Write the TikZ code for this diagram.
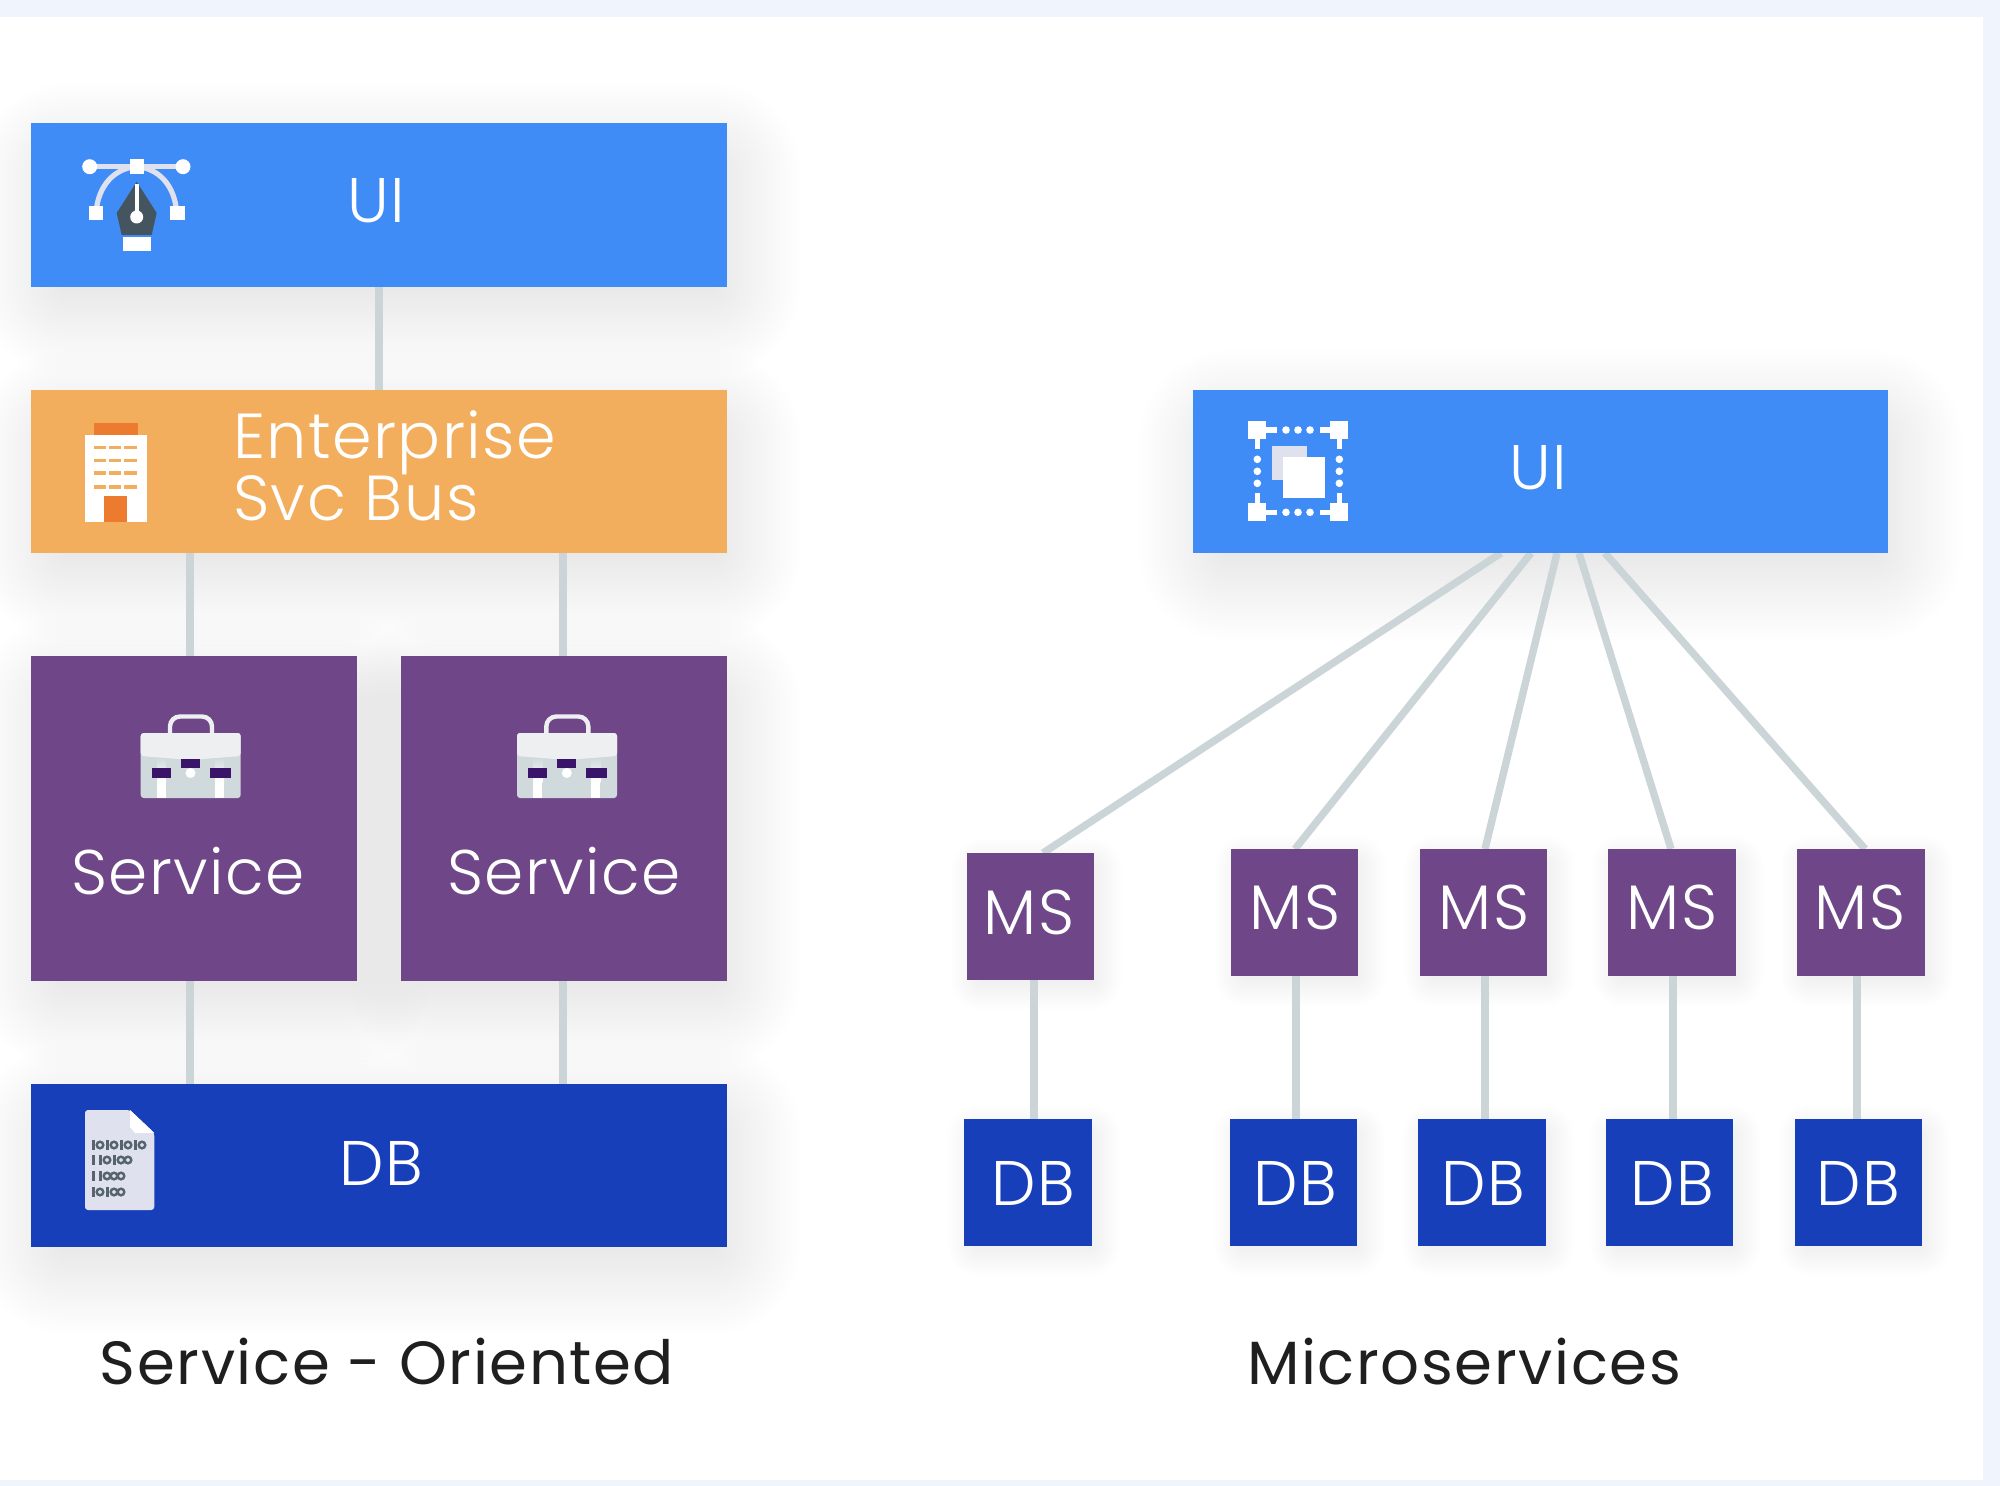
\documentclass[tikz,border=0pt]{standalone}
\usepackage{fontspec}
\setmainfont{Poppins}[UprightFont={* Light},BoldFont={*},LetterSpace=2.3]
\newfontfamily\labelfont{Poppins}[LetterSpace=2.6]
\usetikzlibrary{calc}
\pgfdeclarelayer{panel}\pgfdeclarelayer{shade}\pgfdeclarelayer{wires}
\pgfsetlayers{panel,shade,wires,main}
\definecolor{pageblue}{HTML}{EFF4FD}
\definecolor{uiblue}{HTML}{3F8CF7}
\definecolor{busorange}{HTML}{F3AE5D}
\definecolor{deeporange}{HTML}{EC7B30}
\definecolor{svcpurple}{HTML}{6F4788}
\definecolor{dbblue}{HTML}{183FBA}
\definecolor{wire}{HTML}{CBD5D8}
\definecolor{nib}{HTML}{455560}
\definecolor{paleicon}{HTML}{DFE1EE}
\definecolor{clasp}{HTML}{3A1468}
\definecolor{casetop}{HTML}{EDEFF1}
\definecolor{casebot}{HTML}{D0D9DC}
\definecolor{bitdark}{HTML}{56646E}
\newcommand{\bx}[5]{\node[box,fill=#1,minimum width={(#4-#2)*0.5pt},minimum height={(#5-#3)*0.5pt}] at ({(#2+#4)/2},{(#3+#5)/2})}
\newcommand{\softshade}[3]{% node, x offset, y offset
  \foreach \g in {64,60,...,-24}{
    \fill[black,opacity=0.0036,rounded corners={(\g+26)*0.5pt}]
      ($(#1.south west)+(#2-\g,#3+\g)$) rectangle ($(#1.north east)+(#2+\g,#3-\g)$);
  }}
\newcommand{\brief}[1]{%
  \begin{scope}[shift={(#1,0)}]
    \draw[casetop,line width=2.2pt,rounded corners=5pt] (170,735) -- (170,716.5) -- (212,716.5) -- (212,735);
    \fill[casebot,rounded corners=1.5pt] (140.7,733) rectangle (240.7,798);
    \fill[casetop,rounded corners=1.5pt] (140.7,733) -- (240.7,733) -- (240.7,756) -- (190.7,760) -- (140.7,756) -- cycle;
    \shade[top color=casebot,bottom color=white] (157,758) rectangle (166,782);
    \fill[white] (157,782) rectangle (166,798);
    \shade[top color=casebot,bottom color=white] (215,758) rectangle (224,782);
    \fill[white] (215,782) rectangle (224,798);
    \fill[white] (190.5,773) circle (5);
    \fill[clasp] (152,768) rectangle (171,778);
    \fill[clasp] (210,768) rectangle (231,778);
    \fill[clasp] (181,759) rectangle (200,768);
  \end{scope}}
\newcommand{\binrow}[2]{%
  \foreach \kind [count=\n from 0] in {#2}{
    \ifnum\kind=1
      \fill[bitdark] ({93+\n*7-1.5},#1-5) rectangle ({93+\n*7+1.5},#1+5);
    \else
      \draw[bitdark,line width=1.2pt] ({93+\n*7},#1) circle (3.3);
    \fi}}
\tikzset{
  x=0.5pt,y=-0.5pt,
  box/.style={draw=none,inner sep=0pt,outer sep=0pt,text=white,font=\fontsize{31.5}{33}\selectfont,align=left},
  wireline/.style={wire,line width=4pt},
  fanline/.style={wire,line width=3.7pt},
  caption/.style={inner sep=0pt,text=black!88,font=\labelfont\fontsize{30.5}{34}\selectfont}
}
\begin{document}
\begin{tikzpicture}
\useasboundingbox (0,0) rectangle (2000,1486);
\begin{pgfonlayer}{panel}
\fill[pageblue] (0,0) rectangle (2000,1486);
\fill[white] (0,17) rectangle (1983,1480);
\end{pgfonlayer}
% left column
\bx{uiblue}{31}{123}{727}{287} (uiL) {};
\bx{busorange}{31}{390}{727}{553} (esb) {};
\bx{svcpurple}{31}{656}{357}{981} (s1) {};
\bx{svcpurple}{401}{656}{727}{981} (s2) {};
\bx{dbblue}{31}{1084}{727}{1247} (dbL) {};
% right column
\bx{uiblue}{1193}{390}{1888}{553} (uiR) {};
\bx{svcpurple}{967}{853}{1094}{980} (m1) {};
\bx{svcpurple}{1231}{849}{1358}{976} (m2) {};
\bx{svcpurple}{1420}{849}{1547}{976} (m3) {};
\bx{svcpurple}{1608}{849}{1736}{976} (m4) {};
\bx{svcpurple}{1797}{849}{1925}{976} (m5) {};
\bx{dbblue}{964}{1119}{1092}{1246} (d1) {};
\bx{dbblue}{1230}{1119}{1357}{1246} (d2) {};
\bx{dbblue}{1418}{1119}{1546}{1246} (d3) {};
\bx{dbblue}{1606}{1119}{1733}{1246} (d4) {};
\bx{dbblue}{1795}{1119}{1922}{1246} (d5) {};
% labels
\node[box] (tUiL) at (376,201) {UI};
\node[box] (tUiR) at (1538,468) {UI};
\node[box,anchor=west,font=\fontsize{31.8}{31.2}\selectfont] (tEsb) at (233,466) {Enterprise\\Svc Bus};
\node[box] (tS1) at (188,871) {Service};
\node[box] (tS2) at (564,871) {Service};
\node[box] (tDb) at (381,1163) {DB};
\node[box] (tM1) at (1029,912) {MS};
\node[box] (tM2) at (1295,907) {MS};
\node[box] (tM3) at (1484,907) {MS};
\node[box] (tM4) at (1672,907) {MS};
\node[box] (tM5) at (1860,907) {MS};
\node[box] (tD1) at (1033,1183) {DB};
\node[box] (tD2) at (1295,1183) {DB};
\node[box] (tD3) at (1483,1183) {DB};
\node[box] (tD4) at (1672,1183) {DB};
\node[box] (tD5) at (1858,1183) {DB};
\node[caption] (capL) at (387,1362) {Service - Oriented};
\node[caption] (capR) at (1464,1362) {Microservices};
% anchors of the connectors
\coordinate (a1) at (379,0);
\coordinate (a2) at (190,0);
\coordinate (a3) at (563,0);
\begin{pgfonlayer}{shade}
\foreach \nm in {uiL,esb,s1,s2,dbL,uiR}{\softshade{\nm}{10}{24}}
\foreach \nm in {m1,m2,m3,m4,m5,d1,d2,d3,d4,d5}{
  \foreach \g in {22,20,...,-6}{
    \fill[black,opacity=0.0042,rounded corners={(\g+8)*0.5pt}]
      ($(\nm.south west)+(6-\g,8+\g)$) rectangle ($(\nm.north east)+(6+\g,8-\g)$);
  }}
\end{pgfonlayer}
\begin{pgfonlayer}{wires}
\draw[wireline] (uiL.south -| a1) -- (esb.north -| a1);
\draw[wireline] (esb.south -| a2) -- (s1.north -| a2);
\draw[wireline] (esb.south -| a3) -- (s2.north -| a3);
\draw[wireline] (s1.south -| a2) -- (dbL.north -| a2);
\draw[wireline] (s2.south -| a3) -- (dbL.north -| a3);
% fan
\coordinate (f1) at (1501,0); \coordinate (e1) at (1043,0);
\coordinate (f2) at (1531,0); \coordinate (e2) at (1295,0);
\coordinate (f3) at (1557,0); \coordinate (e3) at (1485,0);
\coordinate (f4) at (1579,0); \coordinate (e4) at (1671,0);
\coordinate (f5) at (1605,0); \coordinate (e5) at (1865,0);
\foreach \i in {1,...,5}{
  \draw[fanline] (uiR.south -| f\i) -- (m\i.north -| e\i);
}
\coordinate (v1) at (1034,0);
\coordinate (v2) at (1296,0);
\coordinate (v3) at (1485,0);
\coordinate (v4) at (1673,0);
\coordinate (v5) at (1857,0);
\foreach \i in {1,...,5}{
  \draw[wireline] (m\i.south -| v\i) -- (d\i.north -| v\i);
}
\end{pgfonlayer}
% pen icon
\draw[paleicon,line width=2.4pt] (89.7,166.7) -- (183,166.7);
\draw[paleicon,line width=2.6pt] (96,213) .. controls (98,185) and (115,168) .. (136.7,166.7) .. controls (158,168) and (175,185) .. (176.7,213);
\fill[white] (89.7,166.7) circle (7.5);
\fill[white] (183,166.7) circle (7.5);
\fill[white] (129.5,159.5) rectangle (144,174);
\fill[white] (89,206) rectangle (103,220);
\fill[white] (169.5,206) rectangle (184.5,220);
\fill[nib] (136.7,181.7) -- (156.7,213) -- (151.7,235) -- (121.7,235) -- (116.7,213) -- cycle;
\draw[white,line width=2pt] (136.7,184) -- (136.7,216);
\fill[white] (136.7,217) circle (6.5);
\fill[white] (122.7,237) rectangle (150.7,250.7);
% building icon
\fill[deeporange] (94,423.3) rectangle (138.3,436);
\fill[white] (85,435) rectangle (147.3,521.7);
\foreach \wy in {447.7,460.7,473.3,486.7}{
  \fill[busorange] (94,\wy-1.8) rectangle (106,\wy+1.8);
  \fill[busorange] (109.3,\wy-1.8) rectangle (121,\wy+1.8);
  \fill[busorange] (124.3,\wy-1.8) rectangle (136.7,\wy+1.8);
}
\fill[deeporange] (104,496) rectangle (127.3,521.7);
% selection icon
\fill[paleicon] (1271.7,445.7) rectangle (1307.3,480);
\fill[white] (1283.3,457.3) rectangle (1325,498.3);
\foreach \cx/\sx in {1257.3/1,1339.3/-1}{
  \foreach \cy/\sy in {430/1,512.3/-1}{
    \fill[white] (\cx-9,\cy-9) rectangle (\cx+9,\cy+9);
    \fill[white] (\cx,\cy-2.6) rectangle (\cx+\sx*19.4,\cy+2.6);
    \fill[white] (\cx-2.6,\cy) rectangle (\cx+2.6,\cy+\sy*19.4);
  }}
\foreach \dd in {1286,1298,1310}{
  \fill[white] (\dd,430) circle (3.8);
  \fill[white] (\dd,512.3) circle (3.8);
}
\foreach \dd in {459.3,471.3,483.3}{
  \fill[white] (1257.3,\dd) circle (3.8);
  \fill[white] (1339.3,\dd) circle (3.8);
}
% briefcases
\brief{0}
\brief{376.3}
% file icon
\fill[paleicon,rounded corners=1.5pt] (85,1110) -- (130,1110) -- (154.3,1133) -- (154.3,1210) -- (85,1210) -- cycle;
\fill[white] (130,1110) -- (154.3,1133) -- (135,1133) -- (130,1127) -- cycle;
\binrow{1145}{1,0,1,0,1,0,1,0}
\binrow{1160}{1,1,0,1,0,0}
\binrow{1176}{1,1,0,0,0}
\binrow{1192}{1,0,1,0,0}
\end{tikzpicture}
\end{document}
